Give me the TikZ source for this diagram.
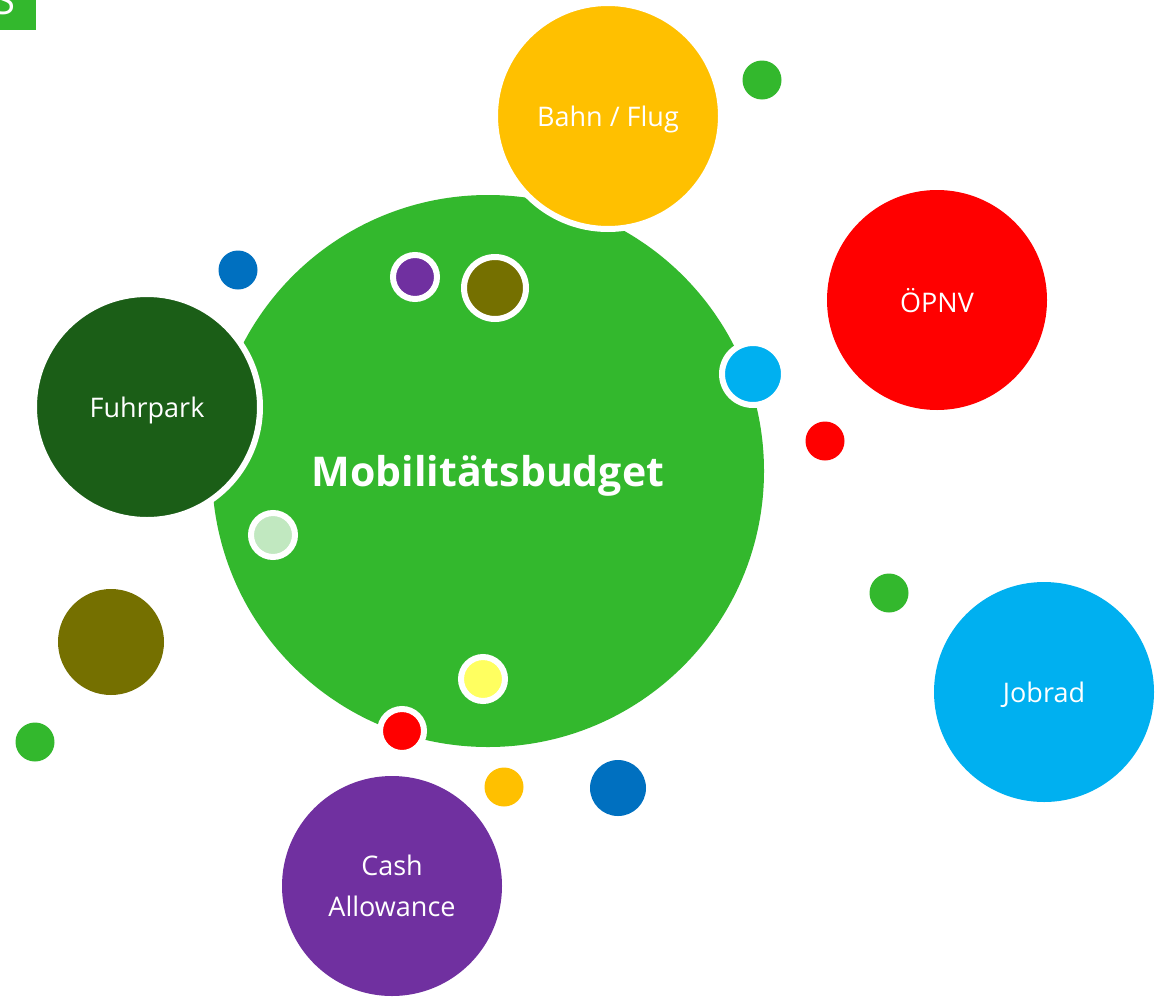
\documentclass[tikz,border=0pt]{standalone}
\usepackage{fontspec}
\setmainfont{Open Sans}
\definecolor{mgreen}{HTML}{33B82D}
\definecolor{dgreen}{HTML}{1B5E17}
\definecolor{olive}{HTML}{757000}
\definecolor{amber}{HTML}{FFC000}
\definecolor{bred}{HTML}{FF0000}
\definecolor{lblue}{HTML}{00B0F0}
\definecolor{purp}{HTML}{7030A0}
\definecolor{dblue}{HTML}{0070C0}
\definecolor{pgreen}{HTML}{C1E8C0}
\definecolor{pyellow}{HTML}{FFFF60}
\tikzset{
  bub/.style={circle, inner sep=0pt, outer sep=0pt, minimum size=#1, text=white, align=center},
  ringed/.style={draw=white, line width=6pt},
  lbl/.style={font=\fontsize{27}{41}\selectfont, text depth=0pt}
}
\begin{document}
\begin{tikzpicture}[x=1pt,y=-1pt]
\useasboundingbox (0,0) rectangle (1158,1001);
\fill[white] (0,0) rectangle (1158,1001);
% corner fragment
\begin{scope}
\clip (0,0) rectangle (36,30);
\fill[mgreen] (0,0) rectangle (36,30);
\node[text=white, font=\fontsize{40}{40}\selectfont, anchor=base] (corner) at (4,14) {S};
\end{scope}
% main
\node[bub=552pt, fill=mgreen, font=\fontsize{41}{41}\selectfont\bfseries, text depth=0pt] (main) at (488,471) {Mobilitätsbudget};
% big satellites
\node[bub=226pt, fill=amber, ringed, lbl] (bahn) at (608,116) {Bahn / Flug};
\node[bub=226pt, fill=dgreen, ringed, lbl] (fuhr) at (147,407) {Fuhrpark};
\node[bub=220pt, fill=bred, lbl] (oepnv) at (937,300) {ÖPNV};
\node[bub=220pt, fill=lblue, lbl] (jobrad) at (1044,692) {Jobrad};
\node[bub=220pt, fill=purp, lbl] (cash) at (392,886) {Cash\\Allowance};
\node[bub=106pt, fill=olive] (oliveA) at (111,642) {};
% ringed small
\node[bub=44pt, fill=purp, ringed] (s1) at (415,277) {};
\node[bub=62pt, fill=olive, ringed] (s2) at (495,288) {};
\node[bub=62pt, fill=lblue, ringed] (s3) at (753,374) {};
\node[bub=44pt, fill=pgreen, ringed] (s4) at (273,535) {};
\node[bub=44pt, fill=pyellow, ringed] (s5) at (483,679) {};
\node[bub=44pt, fill=bred, ringed] (s6) at (402,731) {};
% plain small
\node[bub=39pt, fill=mgreen] (d1) at (762,80) {};
\node[bub=39pt, fill=dblue] (d2) at (238,270) {};
\node[bub=39pt, fill=bred] (d3) at (825,441) {};
\node[bub=39pt, fill=mgreen] (d4) at (889,593) {};
\node[bub=39pt, fill=mgreen] (d5) at (35,742) {};
\node[bub=39pt, fill=amber] (d6) at (504,787) {};
\node[bub=56pt, fill=dblue] (d7) at (618,788) {};
\end{tikzpicture}
\end{document}
